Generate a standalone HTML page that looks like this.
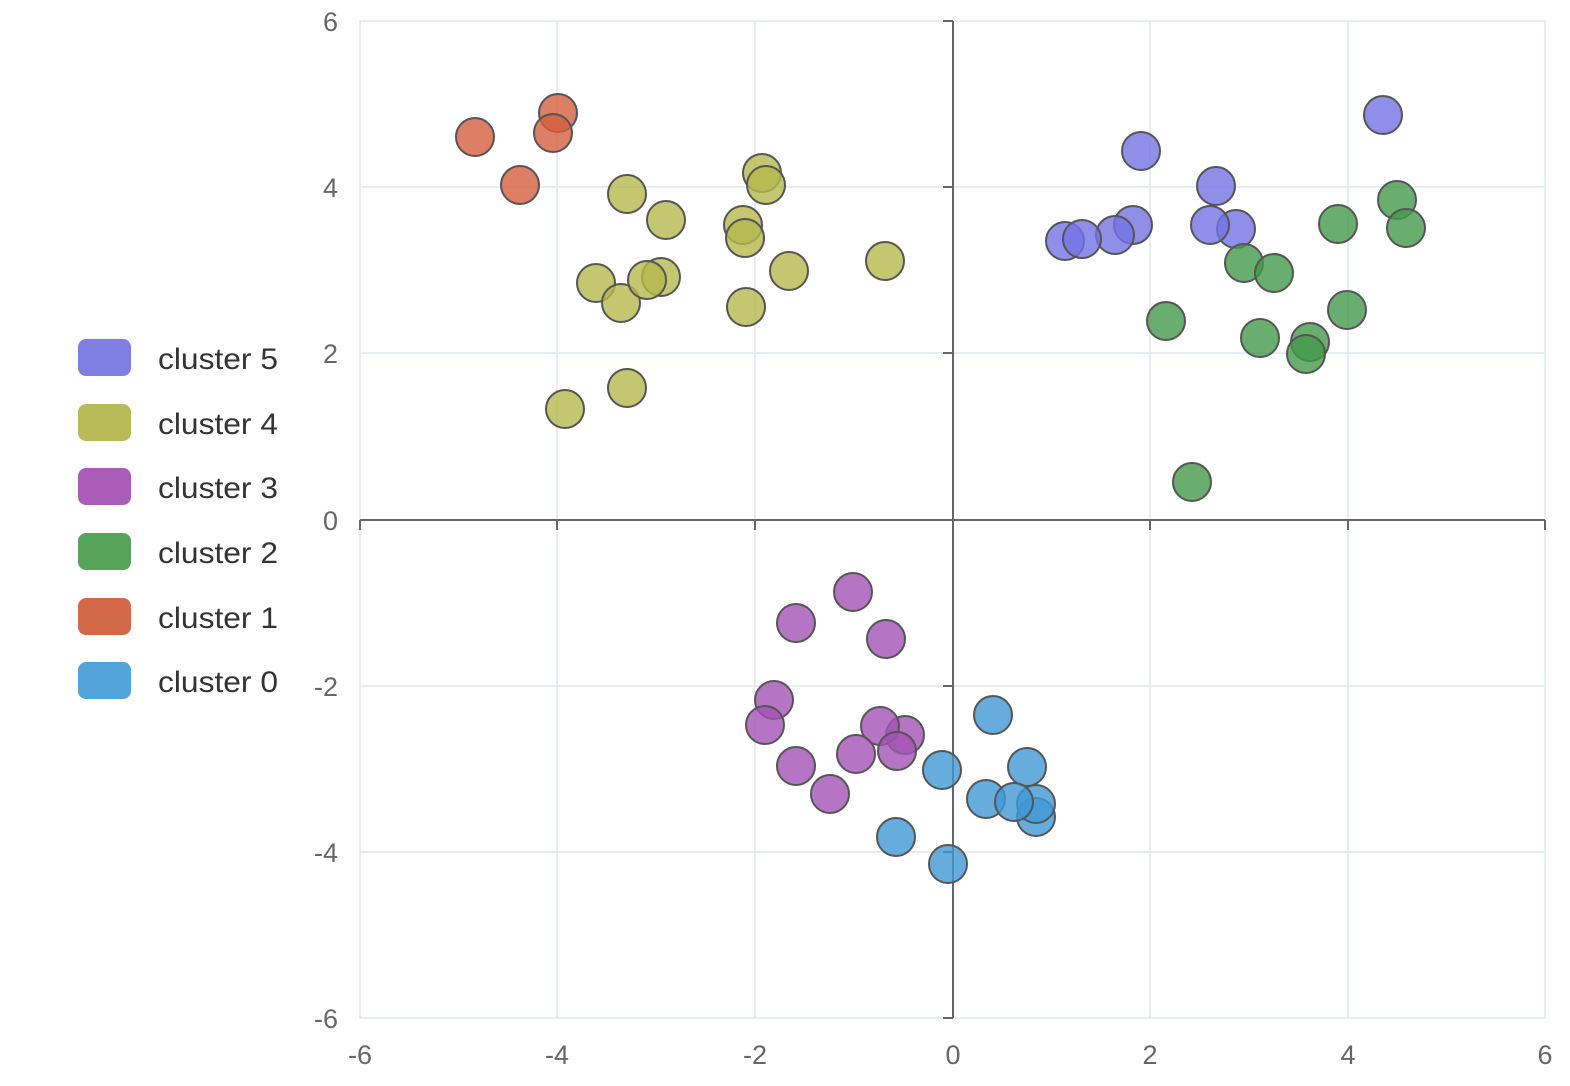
<!DOCTYPE html>
<html><head><meta charset="utf-8"><style>
body{margin:0;background:#fff;width:1570px;height:1086px;overflow:hidden}
svg{display:block;font-family:"Liberation Sans",sans-serif}
</style></head><body>
<svg width="1570" height="1086" viewBox="0 0 1570 1086">
<g stroke="#e1e6ef" stroke-width="1.5" fill="none">
<rect x="360" y="21" width="1185" height="997"/>
<line x1="557" y1="21" x2="557" y2="1018"/><line x1="755" y1="21" x2="755" y2="1018"/>
<line x1="1150" y1="21" x2="1150" y2="1018"/><line x1="1348" y1="21" x2="1348" y2="1018"/>
<line x1="360" y1="187" x2="1545" y2="187"/><line x1="360" y1="353" x2="1545" y2="353"/>
<line x1="360" y1="686" x2="1545" y2="686"/><line x1="360" y1="852" x2="1545" y2="852"/>
</g>
<g stroke="#666" stroke-width="2">
<line x1="360" y1="520" x2="1545" y2="520"/><line x1="953" y1="21" x2="953" y2="1018"/>
<line x1="360" y1="520" x2="360" y2="530"/><line x1="557" y1="520" x2="557" y2="530"/><line x1="755" y1="520" x2="755" y2="530"/><line x1="1150" y1="520" x2="1150" y2="530"/><line x1="1348" y1="520" x2="1348" y2="530"/><line x1="1545" y1="520" x2="1545" y2="530"/>
<line x1="943" y1="21" x2="953" y2="21"/><line x1="943" y1="187" x2="953" y2="187"/><line x1="943" y1="353" x2="953" y2="353"/><line x1="943" y1="686" x2="953" y2="686"/><line x1="943" y1="852" x2="953" y2="852"/><line x1="943" y1="1018" x2="953" y2="1018"/>
</g>
<g fill="#666" font-size="27" text-anchor="end">
<text x="338" y="31">6</text><text x="338" y="197">4</text><text x="338" y="363">2</text><text x="338" y="530">0</text>
<text x="338" y="696">-2</text><text x="338" y="862">-4</text><text x="338" y="1028">-6</text>
</g>
<g fill="#666" font-size="27" text-anchor="middle">
<text x="360" y="1064">-6</text><text x="557" y="1064">-4</text><text x="755" y="1064">-2</text><text x="953" y="1064">0</text><text x="1150" y="1064">2</text><text x="1348" y="1064">4</text><text x="1545" y="1064">6</text>
</g>
<g stroke="#555" stroke-width="2" fill-opacity="0.8">
<g fill="#d35f3d"><circle cx="475" cy="137" r="19"/><circle cx="558" cy="113" r="19"/><circle cx="553" cy="133" r="19"/><circle cx="520" cy="185" r="19"/></g>
<g fill="#b5b84c"><circle cx="627" cy="194" r="19"/><circle cx="666" cy="220" r="19"/><circle cx="762" cy="173" r="19"/><circle cx="766" cy="185" r="19"/><circle cx="743" cy="225" r="19"/><circle cx="745" cy="238" r="19"/><circle cx="789" cy="271" r="19"/><circle cx="885" cy="261" r="19"/><circle cx="596" cy="283" r="19"/><circle cx="621" cy="303" r="19"/><circle cx="661" cy="277" r="19"/><circle cx="647" cy="280" r="19"/><circle cx="746" cy="307" r="19"/><circle cx="627" cy="388" r="19"/><circle cx="565" cy="409" r="19"/></g>
<g fill="#7373e4"><circle cx="1141" cy="151" r="19"/><circle cx="1383" cy="115" r="19"/><circle cx="1216" cy="186" r="19"/><circle cx="1236" cy="229" r="19"/><circle cx="1210" cy="225" r="19"/><circle cx="1133" cy="225" r="19"/><circle cx="1115" cy="235" r="19"/><circle cx="1065" cy="241" r="19"/><circle cx="1082" cy="239" r="19"/></g>
<g fill="#449a4a"><circle cx="1397" cy="200" r="19"/><circle cx="1406" cy="228" r="19"/><circle cx="1338" cy="224" r="19"/><circle cx="1244" cy="263" r="19"/><circle cx="1274" cy="273" r="19"/><circle cx="1166" cy="321" r="19"/><circle cx="1260" cy="338" r="19"/><circle cx="1310" cy="342" r="19"/><circle cx="1306" cy="354" r="19"/><circle cx="1347" cy="310" r="19"/><circle cx="1192" cy="482" r="19"/></g>
<g fill="#a452b5"><circle cx="853" cy="592" r="19"/><circle cx="796" cy="623" r="19"/><circle cx="886" cy="639" r="19"/><circle cx="774" cy="700" r="19"/><circle cx="765" cy="725" r="19"/><circle cx="905" cy="735" r="19"/><circle cx="880" cy="726" r="19"/><circle cx="897" cy="751" r="19"/><circle cx="856" cy="754" r="19"/><circle cx="796" cy="766" r="19"/><circle cx="830" cy="794" r="19"/></g>
<g fill="#4099d6"><circle cx="993" cy="715" r="19"/><circle cx="1027" cy="767" r="19"/><circle cx="942" cy="770" r="19"/><circle cx="986" cy="799" r="19"/><circle cx="1036" cy="817" r="19"/><circle cx="1036" cy="804" r="19"/><circle cx="1014" cy="802" r="19"/><circle cx="896" cy="837" r="19"/><circle cx="948" cy="864" r="19"/></g>
</g>
<g font-size="30" fill="#333">
<rect x="78" y="339" width="53" height="37" rx="8" fill="#7f7fe3"/><text x="158" y="369" textLength="120" lengthAdjust="spacingAndGlyphs">cluster 5</text>
<rect x="78" y="404" width="53" height="37" rx="8" fill="#b9bb58"/><text x="158" y="434" textLength="120" lengthAdjust="spacingAndGlyphs">cluster 4</text>
<rect x="78" y="468" width="53" height="37" rx="8" fill="#a95db8"/><text x="158" y="498" textLength="120" lengthAdjust="spacingAndGlyphs">cluster 3</text>
<rect x="78" y="533" width="53" height="37" rx="8" fill="#56a35a"/><text x="158" y="563" textLength="120" lengthAdjust="spacingAndGlyphs">cluster 2</text>
<rect x="78" y="598" width="53" height="37" rx="8" fill="#d4694a"/><text x="158" y="628" textLength="120" lengthAdjust="spacingAndGlyphs">cluster 1</text>
<rect x="78" y="662" width="53" height="37" rx="8" fill="#52a4db"/><text x="158" y="692" textLength="120" lengthAdjust="spacingAndGlyphs">cluster 0</text>
</g>
</svg>
</body></html>
